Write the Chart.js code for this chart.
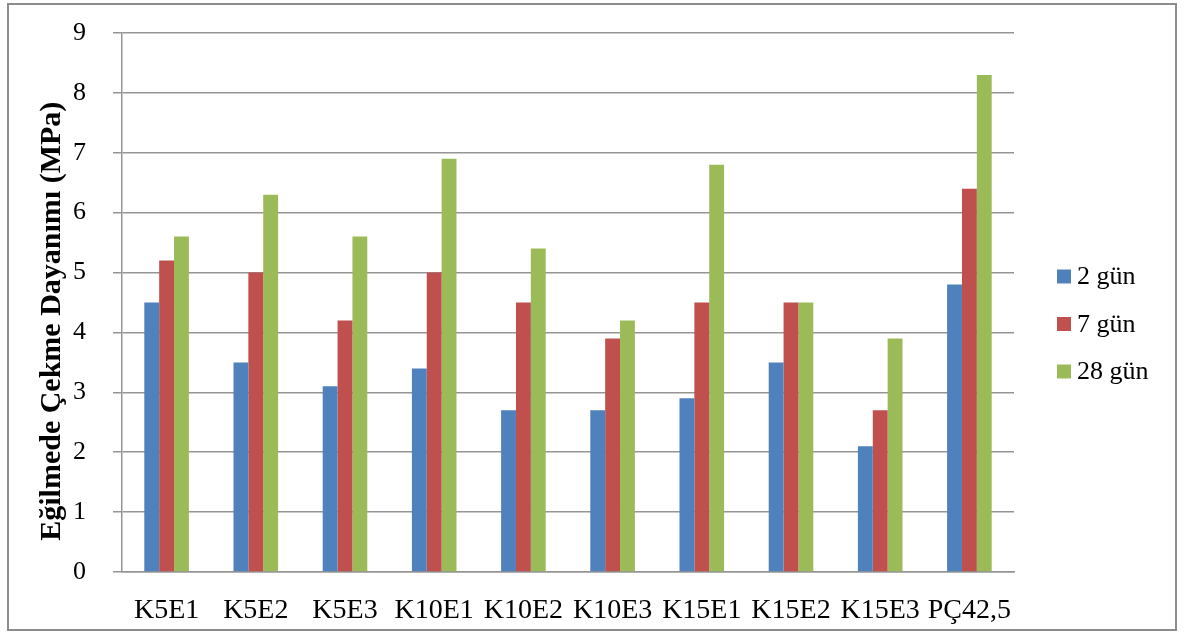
<!DOCTYPE html>
<html>
<head>
<meta charset="utf-8">
<title>Eğilmede Çekme Dayanımı</title>
<script src="https://cdn.jsdelivr.net/npm/chart.js@4/dist/chart.umd.min.js"></script>
<style>
  html, body { margin: 0; padding: 0; background: #ffffff; }
  #wrap { position: relative; width: 1188px; height: 641px; overflow: hidden; }
  #frame {
    position: absolute; left: 7px; top: 3px; width: 1170px; height: 628px;
    border: 2px solid #8c8c8c; box-sizing: border-box; pointer-events: none;
  }
  canvas { position: absolute; left: 0; top: 0; }
</style>
</head>
<body>
<div id="wrap">
  <canvas id="chart" width="1188" height="641"></canvas>
  <div id="frame"></div>
</div>
<script>
// Mix designations along the x axis
const categories = ['K5E1', 'K5E2', 'K5E3', 'K10E1', 'K10E2', 'K10E3', 'K15E1', 'K15E2', 'K15E3', 'PÇ42,5'];

// Flexural tensile strength (MPa) by curing age
const day2  = [4.5, 3.5, 3.1, 3.4, 2.7, 2.7, 2.9, 3.5, 2.1, 4.8];
const day7  = [5.2, 5.0, 4.2, 5.0, 4.5, 3.9, 4.5, 4.5, 2.7, 6.4];
const day28 = [5.6, 6.3, 5.6, 6.9, 5.4, 4.2, 6.8, 4.5, 3.9, 8.3];

const seriesNames = ['2 gün', '7 gün', '28 gün'];
const seriesColors = ['#4F81BD', '#C0504D', '#9BBB59'];

// trailing spaces nudge the rotated title slightly toward the axis origin
const yTitle = 'Eğilmede Çekme Dayanımı (MPa)\u2002\u2002 ';
const yMin = 0, yMax = 9, yStep = 1;

const serif = '"Liberation Serif", "Times New Roman", serif';
const gridGray = '#959595';

// Legend drawn to the right of the plot, one row per dataset
const sideLegend = {
  id: 'sideLegend',
  afterDraw(chart) {
    const ctx = chart.ctx;
    const area = chart.chartArea;
    const left = area.right + 43;
    const firstY = 276.5;
    const rowGap = 47.5;
    const box = 14;
    ctx.save();
    ctx.font = '26px ' + serif;
    ctx.textBaseline = 'middle';
    ctx.textAlign = 'left';
    chart.data.datasets.forEach((ds, i) => {
      const cy = firstY + i * rowGap;
      ctx.fillStyle = ds.backgroundColor;
      ctx.fillRect(left, cy - box / 2, box, box);
      ctx.fillStyle = '#000000';
      ctx.fillText(ds.label, left + box + 6, cy + 1);
    });
    ctx.restore();
  }
};

const datasets = [day2, day7, day28].map((values, i) => ({
  label: seriesNames[i],
  data: values,
  backgroundColor: seriesColors[i],
  borderWidth: 0,
  categoryPercentage: 0.5,
  barPercentage: 1.0
}));

new Chart(document.getElementById('chart'), {
  type: 'bar',
  data: { labels: categories, datasets },
  options: {
    responsive: false,
    animation: false,
    devicePixelRatio: 1,
    layout: { padding: { top: 33, right: 174, bottom: 0, left: 0 } },
    plugins: {
      legend: { display: false },
      tooltip: { enabled: false }
    },
    scales: {
      x: {
        grid: { display: false, drawTicks: false },
        border: { display: true, color: gridGray, width: 1.5 },
        ticks: {
          color: '#000000',
          font: { family: serif, size: 28 },
          padding: 22,
          maxRotation: 0,
          autoSkip: false
        },
        afterFit(scale) { scale.height = 69; }
      },
      y: {
        min: yMin,
        max: yMax,
        grid: {
          color: gridGray,
          lineWidth: 1.5,
          tickLength: 9,
          tickColor: gridGray
        },
        border: { display: true, color: gridGray, width: 1.5 },
        ticks: {
          stepSize: yStep,
          color: '#000000',
          font: { family: serif, size: 26 },
          padding: 27
        },
        title: {
          display: true,
          text: yTitle,
          color: '#000000',
          font: { family: serif, size: 30, weight: 'bold' },
          padding: { top: 34, bottom: 0 }
        },
        afterFit(scale) {
          scale.width = 122;
          // the top label fits inside the layout padding already
          scale.paddingTop = 0;
        }
      }
    }
  },
  plugins: [sideLegend]
});
</script>
</body>
</html>
